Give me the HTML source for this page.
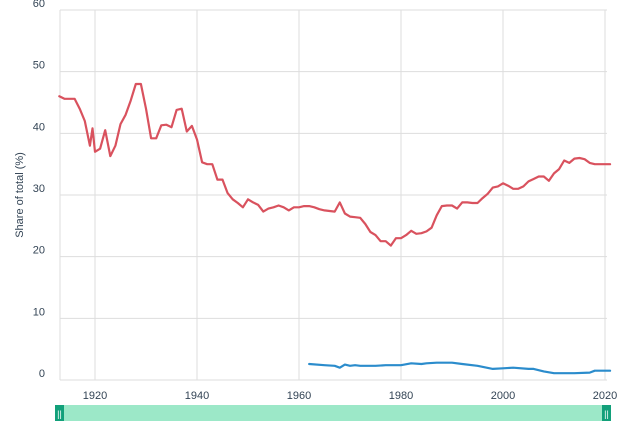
<!DOCTYPE html>
<html><head><meta charset="utf-8"><style>
body{margin:0;background:#fff;width:617px;height:430px;overflow:hidden;font-family:"Liberation Sans",sans-serif}
</style></head><body>
<svg width="617" height="430">
<g id="grid"></g>
<text transform="translate(23,195) rotate(-90)" text-anchor="middle" font-size="11" fill="#345">Share of total (%)</text>
<g id="series"></g>
<g>
<rect x="55" y="405" width="556" height="16" fill="#9ce8c8"/>
<rect x="55" y="405" width="9" height="16" fill="#12a07a"/>
<text x="59.5" y="417" font-size="9" fill="#fff" text-anchor="middle">||</text>
<rect x="602" y="405" width="9" height="16" fill="#12a07a"/>
<text x="606.5" y="417" font-size="9" fill="#fff" text-anchor="middle">||</text>
</g>
</svg>
<script>
const yTicks=[0,10,20,30,40,50,60];
const xTicks=[1920,1940,1960,1980,2000,2020];
const redYears=[1913,1914,1916,1917,1918,1919,1919.5,1920,1921,1922,1923,1924,1925,1926,1927,1928,1929,1930,1931,1932,1933,1934,1935,1936,1937,1938,1939,1940,1941,1942,1943,1944,1945,1946,1947,1948,1949,1950,1951,1952,1953,1954,1955,1956,1957,1958,1959,1960,1961,1962,1963,1964,1965,1966,1967,1968,1969,1970,1971,1972,1973,1974,1975,1976,1977,1978,1979,1980,1981,1982,1983,1984,1985,1986,1987,1988,1989,1990,1991,1992,1993,1994,1995,1996,1997,1998,1999,2000,2001,2002,2003,2004,2005,2006,2007,2008,2009,2010,2011,2012,2013,2014,2015,2016,2017,2018,2019,2020,2021];
const redValues=[46,45.6,45.6,44,42,38,40.8,37,37.5,40.5,36.3,38,41.5,43,45.3,48,48,44,39.2,39.2,41.3,41.4,41,43.8,44,40.3,41.2,39,35.3,35,35,32.5,32.5,30.3,29.3,28.7,28,29.3,28.8,28.4,27.3,27.8,28,28.3,28,27.5,28,28,28.2,28.2,28,27.7,27.5,27.4,27.3,28.8,27,26.5,26.4,26.3,25.3,24,23.5,22.5,22.5,21.8,23,23,23.5,24.2,23.7,23.8,24.1,24.7,26.7,28.2,28.3,28.3,27.8,28.8,28.8,28.7,28.7,29.5,30.2,31.2,31.4,31.9,31.5,31,31,31.4,32.2,32.6,33,33,32.3,33.5,34.2,35.6,35.2,35.9,36,35.8,35.2,35,35,35,35];
const blueYears=[1962,1965,1967,1968,1969,1970,1971,1972,1975,1977,1980,1982,1984,1985,1987,1990,1992,1995,1998,2000,2002,2005,2006,2008,2010,2014,2017,2018,2021];
const blueValues=[2.6,2.4,2.3,2.0,2.5,2.3,2.4,2.3,2.3,2.4,2.4,2.7,2.6,2.7,2.8,2.8,2.6,2.3,1.8,1.9,2.0,1.8,1.8,1.4,1.1,1.1,1.2,1.5,1.5];
const NS='http://www.w3.org/2000/svg';
const x=yr=>95+(yr-1920)*5.1;
const y=v=>380-v*6.1667;
const grid=document.getElementById('grid'),ser=document.getElementById('series');
function mk(tag,attrs,parent){const e=document.createElementNS(NS,tag);for(const k in attrs)e.setAttribute(k,attrs[k]);parent.appendChild(e);return e;}
yTicks.forEach(t=>{
 const l=mk('line',{x1:60,x2:607,y1:y(t),y2:y(t),stroke:'#ddd','stroke-width':1},grid);
 
 
 const tx=mk('text',{x:45,y:y(t)-3,'text-anchor':'end','font-size':11,fill:'#345'},grid);
 tx.textContent=t;
 
 
});
mk('line',{x1:60,x2:60,y1:10,y2:380,stroke:'#ddd'},grid);
xTicks.forEach(t=>{
 const l=mk('line',{x1:x(t),x2:x(t),y1:10,y2:380,stroke:'#ddd','stroke-width':1},grid);
 
 
 const tx=mk('text',{x:x(t),y:399,'text-anchor':'middle','font-size':11,fill:'#345'},grid);
 tx.textContent=t;
 
 
});
function path(xs,vs,col,name){
 const d=xs.map((yr,i)=>(i?'L':'M')+x(yr).toFixed(1)+','+y(vs[i]).toFixed(1)).join('');
 const p=mk('path',{d:d,fill:'none',stroke:col,'stroke-width':2.2,'stroke-linejoin':'round','stroke-linecap':'round'},ser);
 
 
}
path(redYears,redValues,'#d9525e','series-red-line');
path(blueYears,blueValues,'#2b8ccc','series-blue-line');
</script>
</body></html>
